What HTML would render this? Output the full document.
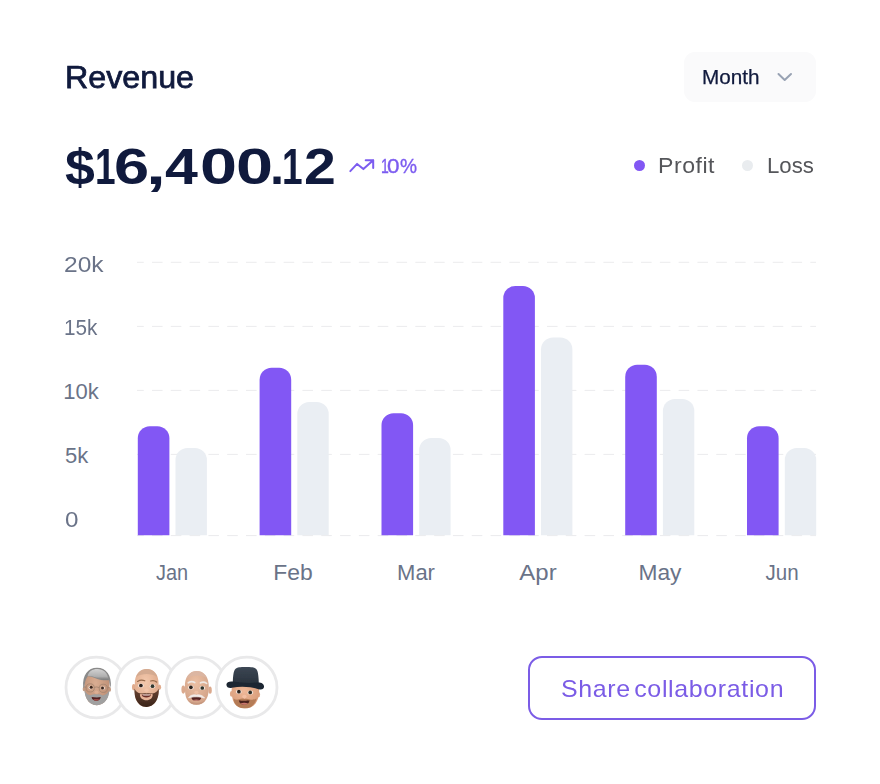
<!DOCTYPE html>
<html lang="en">
<head>
<meta charset="utf-8">
<title>Revenue</title>
<style>
  html,body{margin:0;padding:0;background:#fff;}
  body{width:880px;height:784px;position:relative;overflow:hidden;
       font-family:"Liberation Sans",sans-serif;-webkit-font-smoothing:antialiased;}
  .card{position:absolute;left:0;top:0;width:880px;height:784px;background:#fff;}
  .t{position:absolute;white-space:nowrap;line-height:1;transform-origin:0 0;margin:0;font-weight:400;}
  /* header */
  .title{left:64.6px;top:63.25px;font-size:30.7px;color:#101a3d;-webkit-text-stroke:0.75px #101a3d;transform:scaleX(1.05);}
  .select{position:absolute;left:684px;top:52px;width:132px;height:50px;border-radius:11px;background:#fafafb;}
  .select .t{left:18px;top:15px;font-size:20px;color:#101a3d;-webkit-text-stroke:0.25px #101a3d;transform:scaleX(1.035);}
  .select svg{position:absolute;left:92px;top:19px;}
  .amount{position:absolute;left:0;top:142px;font-size:50px;font-weight:700;color:#101a3d;line-height:1;}
  .amount span{position:absolute;top:0;transform-origin:0 0;}
  .trend{position:absolute;left:348px;top:157px;}
  .pct{position:absolute;left:382px;top:156px;font-size:20px;line-height:1;color:#7c5cf0;-webkit-text-stroke:0.35px #7c5cf0;}
  .pct i{position:absolute;top:0;font-style:normal;transform-origin:0 0;}
  .dot{position:absolute;width:11px;height:11px;border-radius:50%;}
  .leg{font-size:22px;color:#55565a;top:155px;}
  /* chart */
  .ylab{font-size:22px;color:#6a7388;left:65px;}
  .xlab{font-size:22px;color:#6a7388;top:562px;transform:translateX(-50%);transform-origin:50% 0;}
  .chart{position:absolute;left:0;top:0;}
  /* footer */
  .avatars{position:absolute;left:60px;top:650px;}
  .btn{position:absolute;left:528px;top:656px;width:284px;height:60px;border:2px solid #7b5ce6;border-radius:14px;background:#fff;}
  .btn .t{left:31px;top:18.5px;font-size:24px;color:#7b5ce6;letter-spacing:.62px;word-spacing:-4px;transform:scaleX(1.04);}
</style>
</head>
<body>
<div class="card">
  <h2 class="t title">Revenue</h2>
  <div class="select"><span class="t">Month</span>
    <svg width="18" height="12" viewBox="0 0 18 12"><path d="M2.5 3 L8.7 9 L15 3" fill="none" stroke="#98a2b3" stroke-width="2" stroke-linecap="round" stroke-linejoin="round"/></svg>
  </div>
  <div class="amount"><span style="left:65.3px;transform:scaleX(1.072)">$</span><span style="left:94.7px;transform:scaleX(0.740)">1</span><span style="left:113.6px;transform:scaleX(1.263)">6</span><span style="left:146.2px;transform:scaleX(1.431)">,</span><span style="left:165.1px;transform:scaleX(1.182)">4</span><span style="left:199.9px;transform:scaleX(1.331)">0</span><span style="left:235.9px;transform:scaleX(1.331)">0</span><span style="left:270.3px;transform:scaleX(1.014)">.</span><span style="left:282.4px;transform:scaleX(0.740)">1</span><span style="left:304.0px;transform:scaleX(1.145)">2</span></div>
  <svg class="trend" width="28" height="16" viewBox="0 0 28 16"><path d="M2.3 14.1 L9.1 6.9 L15.4 12.1 L25.2 3.2 M17.7 3.2 H25.2 V11" fill="none" stroke="#7c5cf0" stroke-width="2" stroke-linecap="round" stroke-linejoin="round"/></svg>
  <span class="pct"><i style="left:-1.2px;transform:scaleX(0.700)">1</i><i style="left:4.7px;transform:scaleX(1.124)">0</i><i style="left:17.8px;transform:scaleX(0.957)">%</i></span>
  <span class="dot" style="left:634px;top:160px;background:#8257f4"></span>
  <span class="t leg" style="left:657.5px;letter-spacing:.5px;transform:scaleX(1.05)">Profit</span>
  <span class="dot" style="left:742px;top:160px;background:#e9ecef"></span>
  <span class="t leg" style="left:766.5px;transform:scaleX(1.01)">Loss</span>

  <svg class="chart" width="880" height="620" viewBox="0 0 880 620">
    <g stroke="#ebebed" stroke-width="1" stroke-dasharray="10.6 8.21" stroke-dashoffset="3.85" fill="none">
      <path d="M137 262.3H816"/><path d="M137 326.4H816"/><path d="M137 390.4H816"/><path d="M137 454.4H816"/><path d="M137 535.6H816"/>
    </g>
    <g fill="#eaeef3">
      <path d="M175.5 535.3V460.1a12 12 0 0 1 12 -12h7.4a12 12 0 0 1 12 12V535.3z"/>
      <path d="M297.3 535.3V414.0a12 12 0 0 1 12 -12h7.4a12 12 0 0 1 12 12V535.3z"/>
      <path d="M419.2 535.3V450.0a12 12 0 0 1 12 -12h7.4a12 12 0 0 1 12 12V535.3z"/>
      <path d="M541.0 535.3V349.5a12 12 0 0 1 12 -12h7.4a12 12 0 0 1 12 12V535.3z"/>
      <path d="M662.9 535.3V411.0a12 12 0 0 1 12 -12h7.4a12 12 0 0 1 12 12V535.3z"/>
      <path d="M784.8 535.3V460.1a12 12 0 0 1 12 -12h7.4a12 12 0 0 1 12 12V535.3z"/>
    </g>
    <g fill="#8257f4">
      <path d="M137.8 535.3V438.2a12 12 0 0 1 12 -12h7.6a12 12 0 0 1 12 12V535.3z"/>
      <path d="M259.6 535.3V379.8a12 12 0 0 1 12 -12h7.6a12 12 0 0 1 12 12V535.3z"/>
      <path d="M381.5 535.3V425.2a12 12 0 0 1 12 -12h7.6a12 12 0 0 1 12 12V535.3z"/>
      <path d="M503.3 535.3V298.1a12 12 0 0 1 12 -12h7.6a12 12 0 0 1 12 12V535.3z"/>
      <path d="M625.2 535.3V376.7a12 12 0 0 1 12 -12h7.6a12 12 0 0 1 12 12V535.3z"/>
      <path d="M747.0 535.3V438.2a12 12 0 0 1 12 -12h7.6a12 12 0 0 1 12 12V535.3z"/>
    </g>
  </svg>
  <span class="t ylab" style="top:254px;left:63.8px;transform:scaleX(1.115)">20k</span>
  <span class="t ylab" style="top:317.4px;left:63.5px;transform:scaleX(.94)">15k</span>
  <span class="t ylab" style="top:381.3px;left:63.3px;">10k</span>
  <span class="t ylab" style="top:444.8px">5k</span>
  <span class="t ylab" style="top:509px;transform:scaleX(1.1)">0</span>

  <span class="t xlab" style="left:172px;transform:translateX(-50%) scaleX(.905)">Jan</span>
  <span class="t xlab" style="left:293.4px;transform:translateX(-50%) scaleX(1.04)">Feb</span>
  <span class="t xlab" style="left:416px">Mar</span>
  <span class="t xlab" style="left:538px;transform:translateX(-50%) scaleX(1.09)">Apr</span>
  <span class="t xlab" style="left:659.5px;transform:translateX(-50%) scaleX(1.035)">May</span>
  <span class="t xlab" style="left:781.8px;transform:translateX(-50%) scaleX(.935)">Jun</span>

  <svg class="avatars" width="224" height="76" viewBox="60 650 224 76" aria-label="Collaborators">
    <defs>
      <filter id="soft" x="-10%" y="-10%" width="120%" height="120%"><feGaussianBlur stdDeviation="0.45"/></filter>
      <radialGradient id="skinA" cx="45%" cy="40%" r="70%"><stop offset="0" stop-color="#d9ad92"/><stop offset="1" stop-color="#b98a70"/></radialGradient>
      <radialGradient id="skinB" cx="45%" cy="35%" r="75%"><stop offset="0" stop-color="#f3c8ac"/><stop offset="1" stop-color="#d9a283"/></radialGradient>
      <radialGradient id="skinC" cx="45%" cy="35%" r="75%"><stop offset="0" stop-color="#ecc0a4"/><stop offset="1" stop-color="#cf9f84"/></radialGradient>
      <radialGradient id="skinD" cx="45%" cy="30%" r="75%"><stop offset="0" stop-color="#efb99a"/><stop offset="1" stop-color="#d39672"/></radialGradient>
      <linearGradient id="hairA" x1="0" y1="0" x2="0" y2="1"><stop offset="0" stop-color="#d2d2d2"/><stop offset=".7" stop-color="#b0b0b0"/><stop offset="1" stop-color="#7c7c7c"/></linearGradient>
      <linearGradient id="beardB" x1="0" y1="0" x2="0" y2="1"><stop offset="0" stop-color="#6a4432"/><stop offset="1" stop-color="#3a241a"/></linearGradient>
      <linearGradient id="hatD" x1="0" y1="0" x2="0" y2="1"><stop offset="0" stop-color="#3c4754"/><stop offset="1" stop-color="#262f3a"/></linearGradient>
    </defs>
    <!-- rings -->
    <g fill="#fff" stroke="#e9e9ea" stroke-width="2.8">
      <circle cx="96.3" cy="687.5" r="30.3"/>
      <circle cx="146.4" cy="687.5" r="30.3"/>
      <circle cx="196.4" cy="687.5" r="30.3"/>
      <circle cx="246.7" cy="687.5" r="30.3"/>
    </g>

    <!-- 1: grey hair, glasses, grey beard -->
    <g transform="translate(74 660)" filter="url(#soft)">
      <ellipse cx="10" cy="29" rx="1.3" ry="2.3" fill="#c39a82"/>
      <ellipse cx="35.7" cy="29.4" rx="1.3" ry="2.3" fill="#c39a82"/>
      <path d="M10.2 24C10 14 15 8.6 23 8.3C31 8.2 36 14 35.6 24.5C35.6 31 34.6 35.5 32.5 39.5C30 43.5 26.5 45.3 22.6 45.2C18.5 45.2 15 43 12.8 39C11 35.5 10.3 30 10.2 24z" fill="url(#skinA)"/>
      <!-- beard -->
      <path d="M10.4 29.5C11.5 33 13.5 34.8 16.5 35.2C18.8 34.2 20.5 33.9 22.5 34.6C24.5 33.9 26.5 34.3 28.8 35.4C31.8 35 34 33 35.3 30C35.3 34 34.4 37 32.5 39.8C30 43.6 26.5 45.3 22.6 45.2C18.5 45.2 15 43 12.8 39C11.3 36.3 10.5 33 10.4 29.5z" fill="#a0a0a0"/>
      <!-- mouth -->
      <path d="M17.6 37C20.5 37.5 24.5 37.5 26.8 37.1C26.6 39.6 24.8 40.7 22.3 40.7C19.7 40.7 17.9 39.5 17.6 37z" fill="#542020"/>
      <path d="M19.2 39.5C21 38.9 23.8 38.9 25.4 39.5C24.7 40.4 23.6 40.8 22.3 40.8C21 40.8 19.9 40.4 19.2 39.5z" fill="#9a4a45"/>
      <!-- hair -->
      <path d="M9.2 27.5C8.2 15 14 7.8 23 7.8C32 7.8 38 15 36.8 27.8C36 26 35.4 23.5 35 20.2C31 20.6 26.5 20.3 22.8 18.8C18.8 17.3 15.8 16 13.6 16.4C11.5 19 10.5 23.5 10.3 27.8z" fill="#8a8a8a"/>
      <path d="M13.6 16.2C14.5 11.5 18.5 9 23.4 9C29 9 33.5 12.5 34.6 19.4C30.5 19.8 26.5 19.4 23 18C19 16.4 16 15.6 13.6 16.2z" fill="url(#hairA)"/>
      <!-- eyes + glasses -->
      <ellipse cx="16.6" cy="27.6" rx="2.3" ry="1.8" fill="#e6d3c7"/>
      <ellipse cx="28.9" cy="28.1" rx="2.3" ry="1.8" fill="#e6d3c7"/>
      <circle cx="17.2" cy="27.3" r="1.5" fill="#3b261d"/>
      <circle cx="28.5" cy="27.9" r="1.5" fill="#3b261d"/>
      <g fill="none" stroke="#9c7f6b" stroke-width=".7">
        <circle cx="16.2" cy="27.9" r="4.1"/><circle cx="29.3" cy="28.3" r="4.1"/>
        <path d="M20.3 27.4Q22.7 26.4 25.2 27.6M12.1 27.4L10.3 26.6M33.4 28L35.3 27.4"/>
      </g>
      <ellipse cx="22.5" cy="32.2" rx="2" ry="1.6" fill="#dcae93"/>
    </g>

    <!-- 2: bald, brown beard -->
    <g transform="translate(124 660)" filter="url(#soft)">
      <ellipse cx="9.7" cy="27.2" rx="1.7" ry="3.1" fill="#e0ab8d"/>
      <ellipse cx="35.5" cy="27.2" rx="1.6" ry="2.7" fill="#e0ab8d"/>
      <path d="M10.8 24C10.6 14.5 15.5 9 22.8 9C30 9 34.8 14.5 34.6 24C34.8 31 34.4 35 33 39C31 44 27 47 22.3 46.9C17.5 46.9 14 44 12 39.5C10.8 36 10.7 31 10.8 24z" fill="url(#skinB)"/>
      <path d="M12.2 17C14 11.5 18 9 22.8 9C27.5 9 31.5 11.5 33.3 17C30 14.8 26.5 14 22.8 14C19 14 15.5 14.8 12.2 17z" fill="#cfa88f" opacity=".8"/>
      <!-- beard -->
      <path d="M10.4 28.5C11.8 31.5 14 33.2 16.8 33.6C19 32.8 20.8 32.7 22.5 33.2C24.2 32.7 26 32.8 28.4 33.6C31.2 33.2 33.4 31.5 34.8 28.6C35 33 34.4 36.5 33 39.6C31 44.2 27 47 22.3 46.9C17.5 46.9 14 44 12 39.5C10.8 36.5 10.3 33 10.4 28.5z" fill="url(#beardB)"/>
      <!-- mouth -->
      <path d="M15.9 34.2C18 33.6 27 33.6 28.7 34.2C28.9 38 26.2 40.2 22.4 40.2C18.5 40.2 15.8 38 15.9 34.2z" fill="#e7b397"/>
      <path d="M17.6 34.6C20 34.2 25 34.2 27 34.6C26.6 36.8 25 37.6 22.4 37.6C19.8 37.6 18 36.8 17.6 34.6z" fill="#6d2f27"/>
      <path d="M18.6 34.5H26.1V35.3Q22.4 35.9 18.6 35.3z" fill="#f3ece8"/>
      <!-- brows -->
      <path d="M13.6 21.4Q17 19.2 20.8 20.8" fill="none" stroke="#96694a" stroke-width="1.2" stroke-linecap="round"/>
      <path d="M26.6 21Q30 19.8 32.6 22" fill="none" stroke="#96694a" stroke-width="1.2" stroke-linecap="round"/>
      <!-- eyes -->
      <ellipse cx="16.9" cy="25.6" rx="2.8" ry="2" fill="#f2e7e0"/>
      <ellipse cx="28.5" cy="26.2" rx="2.8" ry="2" fill="#f2e7e0"/>
      <circle cx="16.9" cy="25.5" r="1.85" fill="#2a201c"/>
      <circle cx="28.5" cy="26.2" r="1.85" fill="#33382d"/>
      <ellipse cx="22.5" cy="30.2" rx="2.1" ry="1.7" fill="#f2c4a8"/>
    </g>

    <!-- 3: bald, white moustache -->
    <g transform="translate(174 660)" filter="url(#soft)">
      <ellipse cx="9.3" cy="29.6" rx="1.9" ry="4.1" fill="#dba98d"/>
      <ellipse cx="36.1" cy="30.2" rx="1.7" ry="3.6" fill="#dba98d"/>
      <path d="M10.9 27C10.5 17 15.5 11 22.8 11C30 11 35 17 34.8 27C34.8 33 34 36.5 32 39.8C29.8 43.2 26.5 44.9 22.3 44.8C18 44.8 15 43 13 39.5C11.3 36.3 10.9 32 10.9 27z" fill="url(#skinC)"/>
      <path d="M12.6 18.5C14.5 13.5 18.3 11 22.8 11C27.3 11 31.3 13.5 33.2 18.5C30 16.4 26.5 15.6 22.8 15.6C19 15.6 15.8 16.4 12.6 18.5z" fill="#d9b7a6" opacity=".75"/>
      <path d="M13.5 39.8C16 43.5 19 44.8 22.3 44.8C26 44.8 29.3 43.3 31.5 40.3C28.5 42.2 25.5 42.8 22.4 42.8C19.3 42.8 16.3 42 13.5 39.8z" fill="#c3957c" opacity=".8"/>
      <!-- brows -->
      <path d="M14.3 22.8Q17.5 20.8 20.7 22.5" fill="none" stroke="#efe8e3" stroke-width="1.7" stroke-linecap="round"/>
      <path d="M26.5 22.8Q29.8 21.4 32.6 23.4" fill="none" stroke="#efe8e3" stroke-width="1.7" stroke-linecap="round"/>
      <!-- eyes -->
      <ellipse cx="16.9" cy="27.4" rx="2.8" ry="2" fill="#f2e7e0"/>
      <ellipse cx="28.3" cy="28" rx="2.8" ry="2" fill="#f2e7e0"/>
      <circle cx="16.9" cy="27.3" r="1.85" fill="#2b221d"/>
      <circle cx="28.3" cy="28" r="1.85" fill="#2f3229"/>
      <ellipse cx="22.4" cy="32.4" rx="2.1" ry="1.7" fill="#eebfa3"/>
      <!-- mouth -->
      <path d="M17.2 36.7C20 36 25 36 27.4 36.7C27.3 39.6 25.4 40.8 22.3 40.8C19.2 40.8 17.4 39.6 17.2 36.7z" fill="#552420"/>
      <path d="M18.6 40Q22.3 39.1 26 40Q24.6 41.1 22.3 41.1Q20 41.1 18.6 40z" fill="#c27f74"/>
      <!-- moustache -->
      <path d="M14.6 37.8C15.8 35.6 19 34.2 22.4 35.1C25.8 34.2 29.2 35.8 30.5 38C28.5 37.6 26 36.6 22.4 36.8C19 36.6 16.6 37.4 14.6 37.8z" fill="#f1ebe7" stroke="#f1ebe7" stroke-width=".8" stroke-linejoin="round"/>
    </g>

    <!-- 4: bowler hat -->
    <g transform="translate(222 660)" filter="url(#soft)">
      <ellipse cx="9.4" cy="33.8" rx="1.5" ry="2.9" fill="#dfa888"/>
      <ellipse cx="36.6" cy="34.6" rx="1.5" ry="2.7" fill="#dfa888"/>
      <path d="M9.6 30C9.6 26 13 24 23 24C33 24 37 26 37.2 30.5C37.3 36 36 40 33.5 43.5C30.8 47 27 48.4 22.4 48.3C18 48.3 14.5 46.6 12.2 43C10.2 39.5 9.6 35 9.6 30z" fill="url(#skinD)"/>
      <!-- stubble beard -->
      <path d="M11.5 38.5C13.5 40 15.5 39.8 17 39.3C19 38.6 20.8 38.4 22.4 38.9C24 38.4 25.8 38.6 27.8 39.4C29.6 40 32 40 34.6 38.6C33.8 42 31.5 45.5 28.5 47.2C26.5 48.2 24.5 48.3 22.4 48.3C18 48.3 14.5 46.6 12.8 43.6C12 42 11.6 40.3 11.5 38.5z" fill="#b07853" opacity=".9"/>
      <!-- mouth -->
      <path d="M16.9 40.2C19.5 40.9 25 40.9 27.5 40.3C27.3 43.2 25.4 44.6 22.3 44.6C19.2 44.6 17.2 43.2 16.9 40.2z" fill="#4a211d"/>
      <path d="M18.4 43.4Q22.3 42.2 26.1 43.4Q24.6 44.8 22.3 44.8Q19.9 44.8 18.4 43.4z" fill="#c9766c"/>
      <!-- eyes -->
      <ellipse cx="16.8" cy="31.8" rx="2.8" ry="2" fill="#f2e7e0"/>
      <ellipse cx="28.3" cy="32.4" rx="2.8" ry="2" fill="#f2e7e0"/>
      <circle cx="16.9" cy="31.7" r="1.85" fill="#2c231c"/>
      <circle cx="28.2" cy="32.4" r="1.85" fill="#2e2f25"/>
      <ellipse cx="22.4" cy="36.6" rx="2.2" ry="1.8" fill="#f3bfa3"/>
      <!-- hat -->
      <path d="M10.8 22C10.9 17 11.4 13 12.2 11C13 8.8 14.5 7.6 17 7.3C20 7 27 7 30.5 7.3C33 7.6 34.6 8.8 35.4 11C36.2 13.5 36.6 17 36.8 22.5V26H10.8z" fill="url(#hatD)"/>
      <path d="M4.4 24.4C4.6 22.2 7.5 21 11 21.6C19 23 28 23.2 35 22.6C39 22.2 42 23.8 42.1 26.6C42 29.2 39.5 30.2 36.5 29.2C28 26.4 18 26 10 27.8C7 28.5 4.4 27.2 4.4 24.4z" fill="#1d2631"/>
    </g>
  </svg>

  <div class="btn"><span class="t">Share collaboration</span></div>
</div>
</body>
</html>
